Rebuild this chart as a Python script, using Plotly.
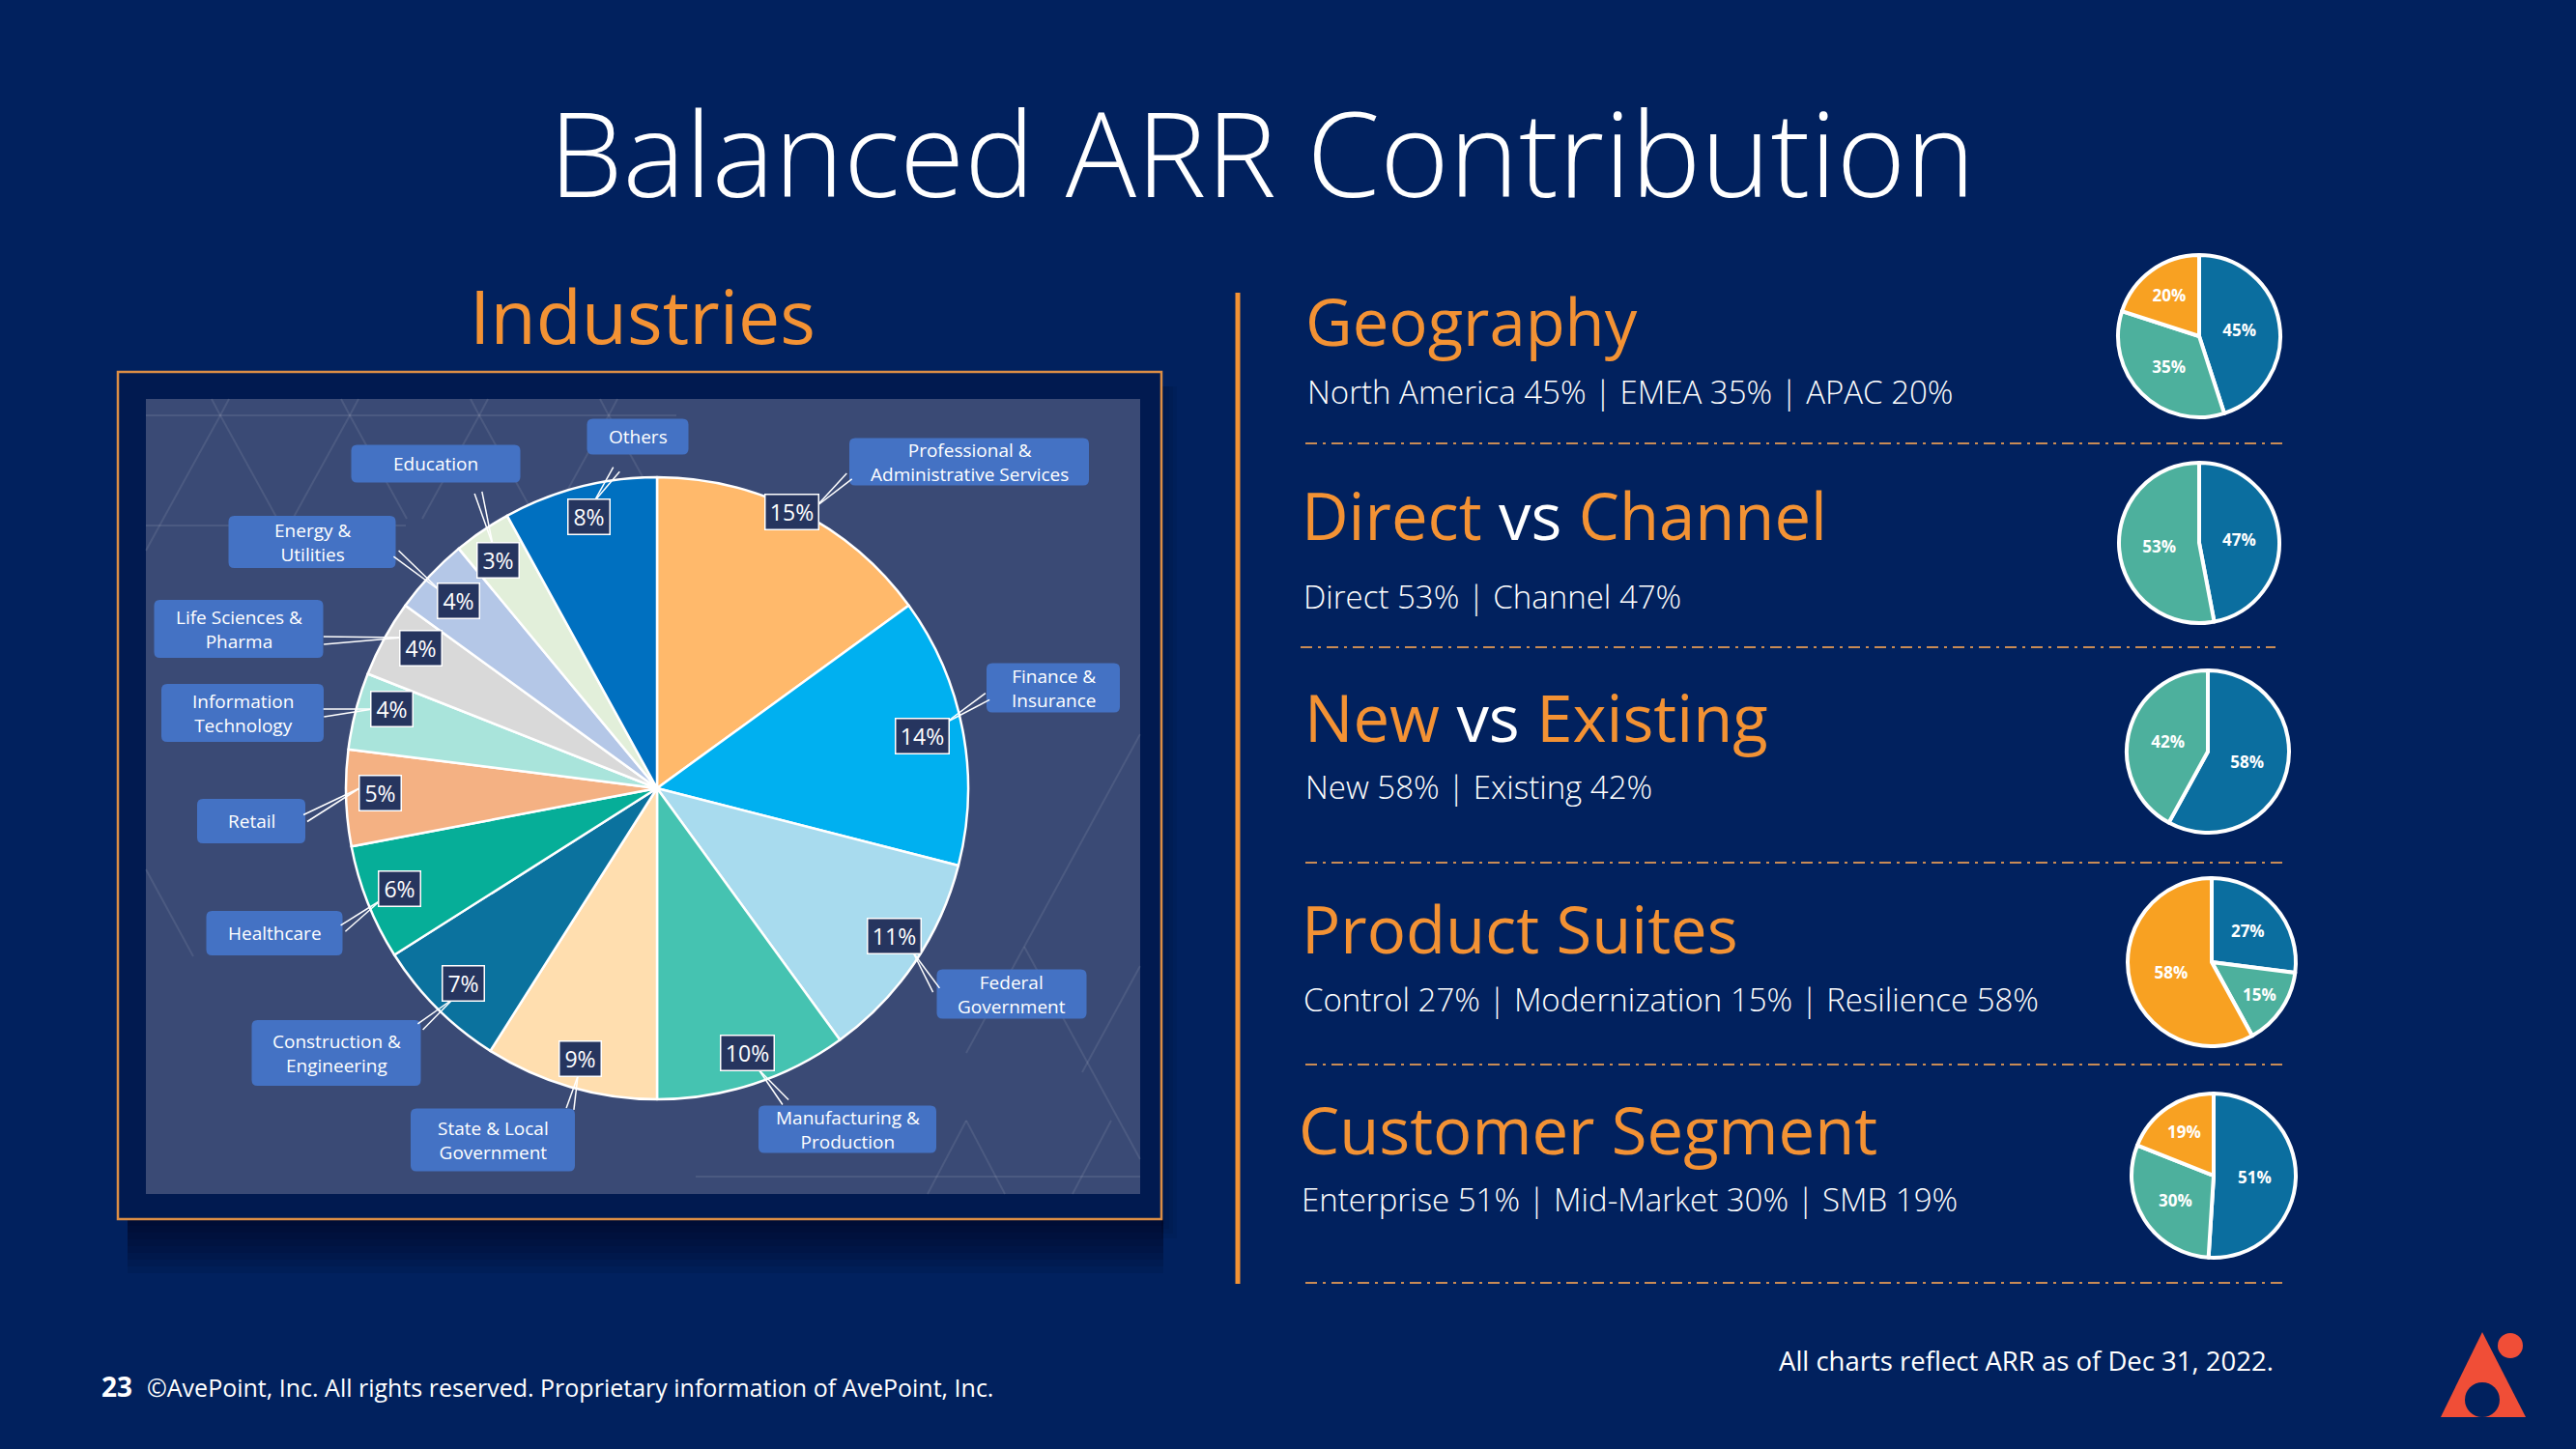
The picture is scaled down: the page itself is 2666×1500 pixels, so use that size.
import math
import plotly.graph_objects as go

W, H = 2666, 1500
BG = "#01215E"
ORANGE = "#F39234"
FONT = "Open Sans"

# ---------------- data ----------------
industry_labels = [
    "Professional &<br>Administrative Services", "Finance &<br>Insurance", "Federal<br>Government",
    "Manufacturing &<br>Production", "State & Local<br>Government", "Construction &<br>Engineering",
    "Healthcare", "Retail", "Information<br>Technology", "Life Sciences &<br>Pharma",
    "Energy &<br>Utilities", "Education", "Others",
]
industry_values = [15, 14, 11, 10, 9, 7, 6, 5, 4, 4, 4, 3, 8]

geo_labels = ["North America", "EMEA", "APAC"]
geo_values = [45, 35, 20]
dc_labels = ["Direct", "Channel"]
dc_values = [53, 47]
ne_labels = ["New", "Existing"]
ne_values = [58, 42]
ps_labels = ["Control", "Modernization", "Resilience"]
ps_values = [27, 15, 58]
cs_labels = ["Enterprise", "Mid-Market", "SMB"]
cs_values = [51, 30, 19]

# ---------------- styles / layout positions ----------------
industry_colors = ["#FFB96B", "#00B0F0", "#A8DBEE", "#45C3B1", "#FFDEAF", "#0B729E", "#06AE98",
                   "#F4B183", "#A9E4DB", "#D9D9D9", "#B4C7E7", "#E2EFDA", "#0070C0"]
# label box centre (px), width, height
label_boxes = [(1003, 478, 248, 49), (1090, 712, 138, 51), (1047, 1029, 155, 51), (877, 1169, 184, 49),
               (510, 1180, 170, 65), (348, 1090, 175, 68), (284, 966, 141, 46), (260, 850, 112, 46),
               (251, 738, 168, 60), (247, 651, 175, 60), (323, 561, 173, 54), (451, 480, 175, 39),
               (660, 452, 105, 37)]
pct_boxes = [(819, 530), (954, 762), (925, 969), (773, 1090), (600, 1096), (479, 1018), (413, 920),
             (393, 821), (405, 734), (435, 671), (474, 622), (515, 580), (609, 535)]
leaders = [((879, 493), (845, 524)), ((1022, 721), (979, 748)), ((969, 1025), (945, 986)),
           ((813, 1141), (785, 1107)), ((590, 1148), (598, 1114)), ((435, 1063), (469, 1034)),
           ((355, 961), (394, 932)), ((316, 847), (372, 816)), ((335, 738), (386, 734)),
           ((335, 663), (416, 660)), ((410, 573), (456, 612)), ((495, 510), (510, 564)),
           ((638, 486), (615, 519))]

BLUE, TEAL, ORG = "#0B6E9F", "#4DB09D", "#F8A122"

fig = go.Figure()

# invisible trace to create a pixel coordinate system
fig.add_trace(go.Scatter(x=[0, W], y=[0, H], mode="markers", marker=dict(opacity=0),
                         hoverinfo="skip", showlegend=False))


def dom(cx, cy, r):
    return dict(x=[(cx - r) / W, (cx + r) / W], y=[1 - (cy + r) / H, 1 - (cy - r) / H])


fig.add_trace(go.Pie(
    values=industry_values, labels=[l.replace("<br>", " ") for l in industry_labels],
    marker=dict(colors=industry_colors, line=dict(color="white", width=2.5)),
    sort=False, direction="clockwise", rotation=0, textinfo="none",
    hoverinfo="label+percent", domain=dom(680, 816, 322), showlegend=False))

# all small pies drawn clockwise from 12 o'clock
small = [
    (geo_labels, geo_values, [BLUE, TEAL, ORG], (2276, 348, 84)),
    (dc_labels[::-1], dc_values[::-1], [BLUE, TEAL], (2276, 562, 83)),
    (ne_labels, ne_values, [BLUE, TEAL], (2285, 778, 84)),
    (ps_labels, ps_values, [BLUE, TEAL, ORG], (2289, 996, 87)),
    (cs_labels, cs_values, [BLUE, TEAL, ORG], (2291, 1217, 85)),
]
for labs, vals, cols, (cx, cy, r) in small:
    fig.add_trace(go.Pie(
        values=vals, labels=labs, marker=dict(colors=cols, line=dict(color="white", width=4)),
        sort=False, direction="clockwise", rotation=0, texttemplate="%{value}%", textposition="inside",
        insidetextorientation="horizontal",
        textfont=dict(family=FONT, size=17, color="white", weight="bold"),
        hoverinfo="label+percent", domain=dom(cx, cy, r), showlegend=False))

shapes = []
ann = []


def rect(x0, y0, x1, y1, fill, line=None, lw=0, layer="below"):
    shapes.append(dict(type="rect", xref="x", yref="y", x0=x0, y0=y0, x1=x1, y1=y1,
                       fillcolor=fill, line=dict(color=line or fill, width=lw), layer=layer))


def line(x0, y0, x1, y1, color, width, dash=None, layer="below"):
    d = dict(color=color, width=width)
    if dash:
        d["dash"] = dash
    shapes.append(dict(type="line", xref="x", yref="y", x0=x0, y0=y0, x1=x1, y1=y1, line=d, layer=layer))


def rrect(x0, y0, x1, y1, r, fill):
    p = (f"M {x0+r} {y0} L {x1-r} {y0} Q {x1} {y0} {x1} {y0+r} L {x1} {y1-r} Q {x1} {y1} {x1-r} {y1} "
         f"L {x0+r} {y1} Q {x0} {y1} {x0} {y1-r} L {x0} {y0+r} Q {x0} {y0} {x0+r} {y0} Z")
    shapes.append(dict(type="path", xref="x", yref="y", path=p, fillcolor=fill,
                       line=dict(width=0), layer="below"))


def text(x, y, t, size, color="white", xanchor="left", weight="normal", yanchor="middle"):
    ann.append(dict(x=x, y=y, xref="x", yref="y", text=t, showarrow=False, xanchor=xanchor,
                    yanchor=yanchor, font=dict(family=FONT, size=size, color=color, weight=weight)))


# frame shadow (soft)
for k in range(1, 9):
    rect(132, 1262, 1204, 1262 + 7 * k, "rgba(0,5,25,0.09)")
for k in range(1, 5):
    rect(1202, 400, 1202 + 4 * k, 1262 + 5 * k, "rgba(0,5,25,0.06)")

# frame & panel
rect(122, 385, 1202, 1262, "#011A50", "#DC8E45", 2.5)
rect(151, 413, 1180, 1236, "#3A4A75")

# faint triangle pattern inside the panel
pat = "rgba(255,255,255,0.09)"
for ax in (228, 362, 496, 630):
    line(ax, 430, ax - 59, 537, pat, 2)
    line(ax, 430, ax + 59, 537, pat, 2)
    line(ax, 430, ax - 9, 413, pat, 2)
    line(ax, 430, ax + 9, 413, pat, 2)
line(151, 430, 700, 430, pat, 2)
line(151, 544, 420, 544, pat, 2)
line(169, 537, 151, 570, pat, 2)
line(1180, 760, 1060, 980, pat, 2)
line(1060, 980, 1180, 1200, pat, 2)
line(1180, 1000, 1120, 1110, pat, 2)
line(1060, 980, 1000, 1090, pat, 2)
line(720, 1218, 1180, 1218, pat, 2)
line(960, 1236, 1000, 1160, pat, 2)
line(1000, 1160, 1040, 1236, pat, 2)
line(1110, 1236, 1150, 1160, pat, 2)
line(151, 900, 200, 990, pat, 2)

# label boxes + text
for (cx, cy, w, h), lab in zip(label_boxes, industry_labels):
    rrect(cx - w / 2, cy - h / 2, cx + w / 2, cy + h / 2, 6, "#4472C4")
    ann.append(dict(x=cx, y=cy, xref="x", yref="y", text=lab, showarrow=False, xanchor="center",
                    yanchor="middle", align="center",
                    font=dict(family=FONT, size=19, color="white")))

# leader wedges
for (lx, ly), (px, py) in leaders:
    dx, dy = px - lx, py - ly
    n = math.hypot(dx, dy)
    nx, ny = -dy / n * 4, dx / n * 4
    line(lx + nx, ly + ny, px, py, "white", 1.5, layer="above")
    line(lx - nx, ly - ny, px, py, "white", 1.5, layer="above")

# percentage boxes
for (cx, cy), v in zip(pct_boxes, industry_values):
    t = f"{v}%"
    ann.append(dict(x=cx, y=cy, xref="x", yref="y", text=t, showarrow=False, xanchor="center",
                    yanchor="middle", bgcolor="#26355F", bordercolor="white", borderwidth=1.5,
                    borderpad=2, width=50 if len(t) > 2 else 38, height=31,
                    font=dict(family=FONT, size=23, color="white")))

# titles
text(1306, 157, "Balanced ARR Contribution", 122, xanchor="center", weight=300)
text(665, 326, "Industries", 77, color=ORANGE, xanchor="center")

# vertical divider
line(1281, 303, 1281, 1329, "#F39234", 5)


def sub(labs, vals):
    return " | ".join(f"{l} {v}%" for l, v in zip(labs, vals))


def vs(labs):
    return (f"<span style='color:{ORANGE}'>{labs[0]}</span>"
            f"<span style='color:white'> vs </span>"
            f"<span style='color:{ORANGE}'>{labs[1]}</span>")


sections = [
    ("Geography", sub(geo_labels, geo_values), (1352, 332), (1354, 405), (1351, 2363, 459)),
    (vs(dc_labels), sub(dc_labels, dc_values), (1348, 533), (1350, 617), (1346, 2355, 670)),
    (vs(ne_labels), sub(ne_labels, ne_values), (1351, 742), (1352, 814), (1351, 2363, 893)),
    ("Product Suites", sub(ps_labels, ps_values), (1348, 961), (1350, 1034), (1351, 2363, 1102)),
    ("Customer Segment", sub(cs_labels, cs_values), (1345, 1169), (1348, 1241), (1351, 2363, 1328)),
]
for head, subt, (hx, hy), (sx, sy), (lx0, lx1, ly) in sections:
    text(hx - 3, hy, head, 67, color=ORANGE)
    text(sx - 3, sy, subt, 33, weight=300)
    line(lx0, ly, lx1, ly, "#C98B55", 2, dash="12px,6px,3px,6px")

# footer
text(103, 1435, "23", 28, weight="bold")
text(150, 1436, "©AvePoint, Inc. All rights reserved. Proprietary information of AvePoint, Inc.", 25)
text(2355, 1408, "All charts reflect ARR as of Dec 31, 2022.", 27.5, xanchor="right")

# logo
shapes.append(dict(type="path", xref="x", yref="y", path="M 2526 1467 L 2569 1379 L 2614 1467 Z",
                   fillcolor="#F04E37", line=dict(width=0), layer="above"))
shapes.append(dict(type="circle", xref="x", yref="y", x0=2551, y0=1431, x1=2587, y1=1467,
                   fillcolor=BG, line=dict(width=0), layer="above"))
shapes.append(dict(type="circle", xref="x", yref="y", x0=2585, y0=1380, x1=2611, y1=1406,
                   fillcolor="#F04E37", line=dict(width=0), layer="above"))

fig.update_layout(
    width=W, height=H, margin=dict(l=0, r=0, t=0, b=0),
    paper_bgcolor=BG, plot_bgcolor=BG, showlegend=False,
    xaxis=dict(range=[0, W], visible=False, domain=[0, 1], fixedrange=True),
    yaxis=dict(range=[H, 0], visible=False, domain=[0, 1], fixedrange=True),
    shapes=shapes, annotations=ann,
)

fig.write_html("out.html", config={"displayModeBar": False},
               post_script="document.body.style.margin='0';document.body.style.background='#01215E';"
                           "document.body.style.overflow='hidden';")
